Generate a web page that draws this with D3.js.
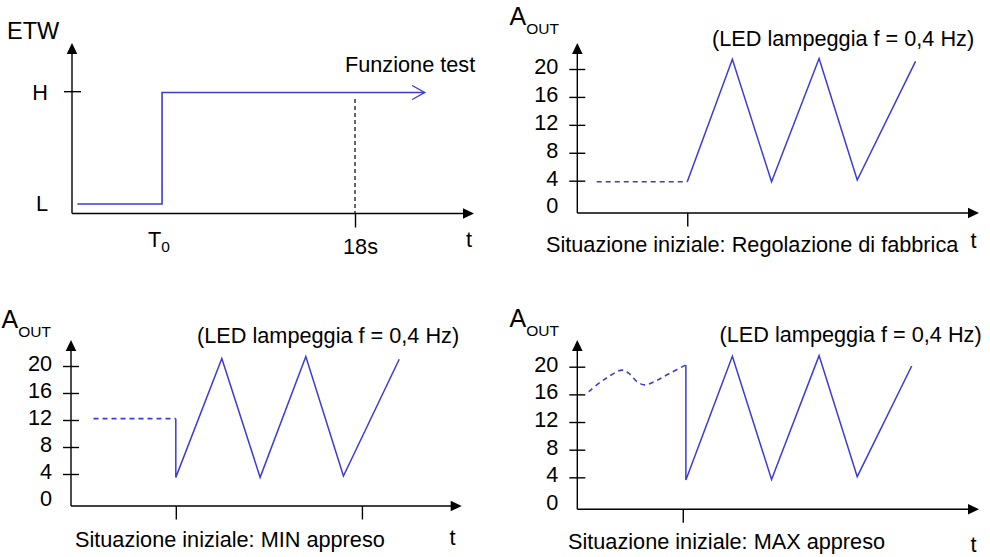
<!DOCTYPE html>
<html>
<head>
<meta charset="utf-8">
<script src="https://cdn.jsdelivr.net/npm/d3@7"></script>
<style>
  html, body { margin: 0; padding: 0; background: #fff; }
  svg { display: block; }
  text { font-family: "Liberation Sans", Arial, sans-serif; fill: #000; }
</style>
</head>
<body>
<svg id="chart" width="990" height="557"></svg>
<script>
// ---------------- DATA ----------------
// Panel 1: ETW step signal (time in s, level L/H)
const etwLevels = ["L", "H"];
const etwSignal = [
  { t: -7.9, level: "L" },
  { t: 0,    level: "L" },
  { t: 0,    level: "H" },
  { t: 24.5, level: "H" }
];
const etwTestTime = 18;          // dashed marker "18s"
const etwTickLabels = ["T", "18s"];

// A_OUT tick labels
const aoutTicks = [0, 4, 8, 12, 16, 20];

// Panel 2: factory setting (time in s relative to T0, value)
const factoryBefore = [ { t: -2.61, v: 3.85 }, { t: 0, v: 3.85 } ];
const factoryAfter = [
  { t: 0, v: 3.85 }, { t: 1.30, v: 21.4 }, { t: 2.43, v: 3.85 },
  { t: 3.80, v: 21.5 }, { t: 4.90, v: 4.1 }, { t: 6.58, v: 21.1 }
];

// Panel 3: MIN learned
const minBefore = [ { t: -2.45, v: 12.2 }, { t: 0, v: 12.2 } ];
const minAfter = [
  { t: 0, v: 12.2 }, { t: 0, v: 3.5 }, { t: 1.37, v: 21.1 }, { t: 2.51, v: 3.5 },
  { t: 3.87, v: 21.4 }, { t: 4.99, v: 3.7 }, { t: 6.65, v: 21.0 }
];
const minTicks = [0, 5.54];

// Panel 4: MAX learned
const maxBefore = [
  { t: -2.71, v: 16.4 }, { t: -2.28, v: 18.1 }, { t: -1.75, v: 19.5 },
  { t: -1.56, v: 19.06 }, { t: -1.32, v: 17.85 }, { t: -1.09, v: 17.37 },
  { t: -0.75, v: 18.0 }, { t: -0.37, v: 19.06 }, { t: 0.09, v: 20.26 }
];
const maxAfter = [
  { t: 0.09, v: 20.26 }, { t: 0.09, v: 3.6 }, { t: 1.43, v: 21.5 }, { t: 2.56, v: 3.7 },
  { t: 3.93, v: 21.6 }, { t: 5.03, v: 4.1 }, { t: 6.60, v: 20.1 }
];

const captions = [
  "Situazione iniziale: Regolazione di fabbrica",
  "Situazione iniziale: MIN appreso",
  "Situazione iniziale: MAX appreso"
];
const ledText = "(LED lampeggia f = 0,4 Hz)";

// ---------------- DRAWING ----------------
const BLUE = "#3c3cd4";
const FS = 21.7;
const svg = d3.select("#chart");

function arrowUp(g, x, y) {
  g.append("path").attr("d", `M${x},${y} L${x-5.3},${y+11} L${x+5.3},${y+11} Z`).attr("fill", "#000");
}
function arrowRight(g, x, y) {
  g.append("path").attr("d", `M${x},${y} L${x-11},${y-5.3} L${x-11},${y+5.3} Z`).attr("fill", "#000");
}
function axesFrame(g, x, y, yTop, xRight) {
  g.append("line").attr("x1", x).attr("x2", x).attr("y1", yTop + 6).attr("y2", y)
    .attr("stroke", "#000").attr("stroke-width", 1.4);
  g.append("line").attr("x1", x).attr("x2", xRight - 6).attr("y1", y).attr("y2", y)
    .attr("stroke", "#000").attr("stroke-width", 1.4);
  arrowUp(g, x, yTop);
  arrowRight(g, xRight, y);
}

// ===== Panel 1 =====
{
  const g = svg.append("g");
  const x = d3.scaleLinear().domain([-8.4, 29.1]).range([72, 474]);
  const y = d3.scalePoint().domain(etwLevels).range([204, 92.5]);
  const axisY = 213.5;
  axesFrame(g, 72, axisY, 43, 474);

  const ya = g.append("g").attr("transform", "translate(72,0)")
    .call(d3.axisLeft(y).tickSize(0).tickPadding(24));
  ya.select(".domain").remove();
  ya.selectAll("text").attr("font-size", FS).attr("font-family", null).attr("dy", "0.3em");
  g.append("line").attr("x1", 64).attr("x2", 81).attr("y1", 91.7).attr("y2", 91.7)
    .attr("stroke", "#000").attr("stroke-width", 1.4);

  const xa = g.append("g").attr("transform", `translate(0,${axisY})`)
    .call(d3.axisBottom(x).tickValues([etwTestTime]).tickSize(14).tickFormat(() => ""));
  xa.select(".domain").remove();
  xa.selectAll("line").attr("stroke-width", 1.4);

  g.append("text").attr("x", x(etwTestTime) + 5.5).attr("y", 254).attr("text-anchor", "middle")
    .attr("font-size", FS).text(etwTickLabels[1]);
  const t0 = g.append("text").attr("x", x(0) - 14).attr("y", 247).attr("font-size", FS);
  t0.append("tspan").text(etwTickLabels[0]);
  t0.append("tspan").attr("font-size", 15.5).attr("dy", 5).text("0");

  g.append("line").attr("x1", x(etwTestTime)).attr("x2", x(etwTestTime))
    .attr("y1", 99).attr("y2", axisY)
    .attr("stroke", "#000").attr("stroke-width", 1.2).attr("stroke-dasharray", "4,3");

  const line = d3.line().x(d => x(d.t)).y(d => y(d.level));
  g.append("path").datum(etwSignal).attr("d", line)
    .attr("fill", "none").attr("stroke", BLUE).attr("stroke-width", 1.6);
  const last = etwSignal[etwSignal.length - 1];
  const ex = x(last.t), ey = y(last.level);
  g.append("path").attr("d", `M${ex-12.5},${ey-7} L${ex},${ey} L${ex-12.5},${ey+7}`)
    .attr("fill", "none").attr("stroke", BLUE).attr("stroke-width", 1.4);

  g.append("text").attr("x", 7).attr("y", 39).attr("font-size", 23.5).text("ETW");
  g.append("text").attr("x", 345).attr("y", 72).attr("font-size", FS).text("Funzione test");
  g.append("text").attr("x", 466).attr("y", 247).attr("font-size", FS).text("t");
}

// ===== Generic A_OUT panel =====
function aoutPanel(cfg) {
  const g = svg.append("g");
  const x = d3.scaleLinear().domain(cfg.tDomain).range([cfg.x0, cfg.x1]);
  const y = d3.scaleLinear().domain([0, 20]).range([cfg.y0, cfg.y20]);
  axesFrame(g, cfg.x0, cfg.axisY, cfg.yTop, cfg.x1);

  const ya = g.append("g").attr("transform", `translate(${cfg.x0},0)`)
    .call(d3.axisLeft(y).tickValues(aoutTicks).tickSize(0).tickPadding(19));
  ya.select(".domain").remove();
  ya.selectAll("text").attr("font-size", FS).attr("font-family", null).attr("dy", "0.2em");
  ya.selectAll(".tick").filter(d => d !== 0).append("line")
    .attr("x1", -8).attr("x2", 8).attr("stroke", "#000").attr("stroke-width", 1.4);

  const xa = g.append("g").attr("transform", `translate(0,${cfg.axisY})`)
    .call(d3.axisBottom(x).tickValues(cfg.xTicks).tickSize(13.5).tickFormat(() => ""));
  xa.select(".domain").remove();
  xa.selectAll("line").attr("stroke-width", 1.4);

  const before = d3.line().x(d => x(d.t)).y(d => y(d.v));
  if (cfg.curve) before.curve(d3.curveCatmullRom);
  g.append("path").datum(cfg.before).attr("d", before)
    .attr("fill", "none").attr("stroke", BLUE).attr("stroke-width", 1.6)
    .attr("stroke-dasharray", "5,4");
  const after = d3.line().x(d => x(d.t)).y(d => y(d.v));
  g.append("path").datum(cfg.after).attr("d", after)
    .attr("fill", "none").attr("stroke", BLUE).attr("stroke-width", 1.5)
    .attr("stroke-linejoin", "miter");

  const a = g.append("text").attr("x", cfg.ax).attr("y", cfg.ay).attr("font-size", 25);
  a.append("tspan").text("A");
  a.append("tspan").attr("font-size", 15.5).attr("dy", 9).text("OUT");
  g.append("text").attr("x", cfg.ledX).attr("y", cfg.ledY).attr("font-size", FS).text(ledText);
  g.append("text").attr("x", cfg.capX).attr("y", cfg.capY).attr("font-size", FS).text(cfg.caption);
  g.append("text").attr("x", cfg.tX).attr("y", cfg.tY).attr("font-size", FS).text("t");
}

aoutPanel({
  tDomain: [-3.17, 8.41], x0: 577.3, x1: 979, y0: 208.6, y20: 69, axisY: 213, yTop: 43,
  xTicks: [0], before: factoryBefore, after: factoryAfter,
  ax: 509.5, ay: 25, ledX: 712, ledY: 45.5, capX: 546, capY: 252, caption: captions[0],
  tX: 970.5, tY: 248
});
aoutPanel({
  tDomain: [-3.12, 8.51], x0: 71, x1: 461.7, y0: 501, y20: 366, axisY: 506, yTop: 340,
  xTicks: minTicks, before: minBefore, after: minAfter,
  ax: 1.5, ay: 328, ledX: 197, ledY: 343.3, capX: 75, capY: 546.7, caption: captions[1],
  tX: 449.5, tY: 545
});
aoutPanel({
  tDomain: [-3.04, 8.54], x0: 577.3, x1: 979, y0: 505, y20: 366.7, axisY: 509.3, yTop: 340,
  xTicks: [0], before: maxBefore, after: maxAfter, curve: true,
  ax: 509.5, ay: 327.3, ledX: 719.5, ledY: 342.3, capX: 568, capY: 549.3, caption: captions[2],
  tX: 970.5, tY: 551.7
});
</script>
</body>
</html>
